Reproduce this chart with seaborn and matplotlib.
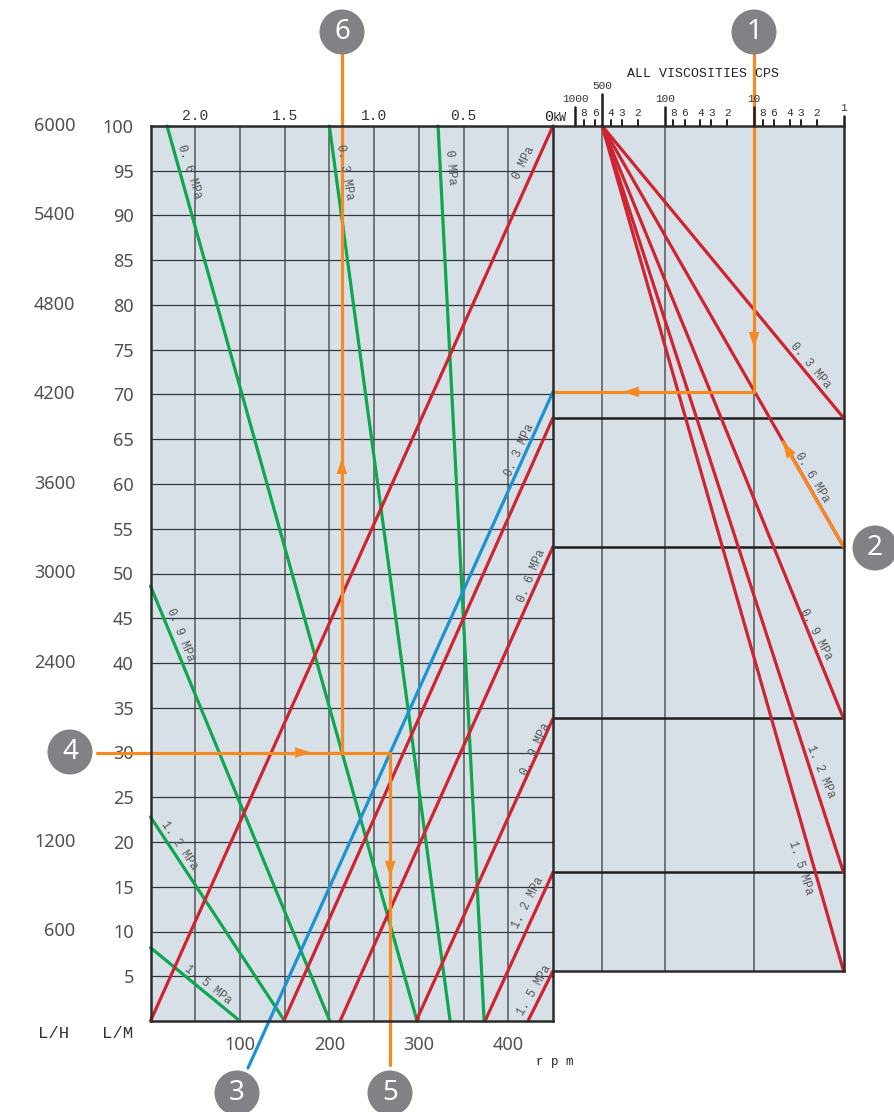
import numpy as np
import pandas as pd
import matplotlib
matplotlib.use("Agg")
import matplotlib.pyplot as plt
from matplotlib.patches import Circle
from matplotlib.transforms import IdentityTransform
import seaborn as sns

W, H = 894, 1112
RED, GREEN, BLUE, ORANGE = "#CE2330", "#0FA650", "#1B93D2", "#F58A20"
PANEL = "#D8E0E7"
MONO = "Liberation Mono"
SANS = "Noto Sans"
NUM = "#505050"

# pressure labels and intercepts
mpa = ["0", "0.3", "0.6", "0.9", "1.2", "1.5"]
red_rpm_at_zero = [0, 149, 212, 297, 374, 422]
red_lm_at_450 = [100, 67.4, 53.0, 33.8, 16.6, 5.6]
green_top_rpm = [321.5, 200, 18.5]
green_bottom_rpm = [373, 335, 298]
green_left_lm = [48.6, 22.8, 8.2]
green_left_bottom_rpm = [200.5, 150, 100]
right_visc_start = 500
right_visc_end = 1
right_lm_end = [67.4, 53.0, 33.8, 16.6, 5.6]
right_mpa = ["0.3", "0.6", "0.9", "1.2", "1.5"]
kw_labels = ["2.0", "1.5", "1.0", "0.5"]
kw_rpm = [50, 150, 250, 350]
lm_ticks = list(range(5, 105, 5))
lh_lm = [10, 20, 40, 50, 60, 70, 80, 90, 100]
lh_labels = ["600", "1200", "2400", "3000", "3600", "4200", "4800", "5400", "6000"]
rpm_major = [100, 200, 300, 400]
rpm_minor = [50, 150, 250, 350]
visc_major = [1000, 500, 100, 10, 1]
visc_minor_mult = [8, 6, 4, 3, 2]

# worked example path
ex_lm_visc = 70.3
ex_visc = 10
ex_rpm_out = 268
ex_rpm_kw = 214
ex_lm = 30
blue_rpm = [109, 450]
blue_lm = [-5.25, 70.3]


def px_rect(x0, y0, x1, y1):
    return [x0 / W, 1 - y1 / H, (x1 - x0) / W, (y1 - y0) / H]


sns.set_theme(style="white")
plt.rcParams["font.family"] = [SANS, "DejaVu Sans"]
fig = plt.figure(figsize=(W / 100, H / 100), dpi=100, facecolor="white")
ax = fig.add_axes(px_rect(150.5, 126, 553, 1021), facecolor=PANEL)
axr = fig.add_axes(px_rect(553, 126, 843.5, 971), facecolor=PANEL)
ax.set_zorder(3)
axr.set_zorder(2)

# build tables ------------------------------------------------------
rows = []
for m, r0, y1 in zip(mpa, red_rpm_at_zero, red_lm_at_450):
    rows += [("r" + m, r0, 0), ("r" + m, 450, y1)]
red_df = pd.DataFrame(rows, columns=["s", "rpm", "lm"])
rows = []
for m, a, b in zip(mpa[:3], green_top_rpm, green_bottom_rpm):
    rows += [("g" + m, a, 100), ("g" + m, b, 0)]
for m, a, b in zip(mpa[3:], green_left_lm, green_left_bottom_rpm):
    rows += [("g" + m, 0, a), ("g" + m, b, 0)]
green_df = pd.DataFrame(rows, columns=["s", "rpm", "lm"])
blue_df = pd.DataFrame({"rpm": blue_rpm, "lm": blue_lm})
rows = []
for m, y1 in zip(right_mpa, right_lm_end):
    rows += [(m, right_visc_start, 100), (m, right_visc_end, y1)]
right_df = pd.DataFrame(rows, columns=["s", "visc", "lm"])

# left panel --------------------------------------------------------
ax.set_xlim(0, 450)
ax.set_ylim(0, 100)
ax.set_axisbelow(True)
ax.set_xticks(rpm_major)
ax.set_xticklabels([str(v) for v in rpm_major], fontsize=13, color=NUM)
ax.set_xticks(rpm_minor, minor=True)
ax.set_yticks(lm_ticks)
ax.set_yticklabels([str(v) for v in lm_ticks], fontsize=13, color=NUM)
ax.tick_params(axis="both", which="both", length=0)
ax.tick_params(axis="x", pad=11)
ax.tick_params(axis="y", pad=12)
ax.grid(True, axis="x", which="both", color="#686C70", lw=1.3)
ax.grid(True, axis="y", which="major", color="#34383B", lw=0.9)
sns.lineplot(data=green_df, x="rpm", y="lm", units="s", estimator=None, sort=False,
             color=GREEN, lw=2.3, ax=ax, legend=False)
sns.lineplot(data=red_df, x="rpm", y="lm", units="s", estimator=None, sort=False,
             color=RED, lw=2.3, ax=ax, legend=False)
sns.lineplot(data=blue_df, x="rpm", y="lm", estimator=None, sort=False,
             color=BLUE, lw=2.3, ax=ax, legend=False)
# example path on the left panel
sns.lineplot(x=[-60, ex_rpm_out], y=[ex_lm, ex_lm], estimator=None, sort=False, color=ORANGE, lw=2.3, ax=ax)
sns.lineplot(x=[ex_rpm_out, ex_rpm_out], y=[ex_lm, -4.9], estimator=None, sort=False, color=ORANGE, lw=2.3, ax=ax)
sns.lineplot(x=[ex_rpm_kw, ex_rpm_kw], y=[ex_lm, 108.3], estimator=None, sort=False, color=ORANGE, lw=2.3, ax=ax)
ax.set_xlabel("")
ax.set_ylabel("")
for ln in ax.lines:
    ln.set_clip_on(False)
for s in ax.spines.values():
    s.set_visible(True)
    s.set_color("#2B2B2B")
    s.set_linewidth(1.8)

# right panel -------------------------------------------------------
axr.set_xscale("log")
axr.set_xlim(1776, 1)
axr.set_ylim(5.587, 100)
axr.set_axisbelow(True)
axr.xaxis.tick_top()
axr.set_xticks([500, 100, 10])
axr.set_xticklabels([])
axr.set_xticks([], minor=True)
axr.tick_params(axis="both", which="both", length=0)
axr.set_yticks(right_lm_end[:-1])
axr.set_yticklabels([])
axr.grid(True, axis="x", which="major", color="#686C70", lw=1.3)
axr.grid(True, axis="y", which="major", color="#1E1E1E", lw=1.8)
sns.lineplot(data=right_df, x="visc", y="lm", units="s", estimator=None, sort=False,
             color=RED, lw=2.3, ax=axr, legend=False)
sns.lineplot(x=[ex_visc, ex_visc], y=[108.3, ex_lm_visc], estimator=None, sort=False, color=ORANGE, lw=2.3, ax=axr)
sns.lineplot(x=[ex_visc, 1776], y=[ex_lm_visc, ex_lm_visc], estimator=None, sort=False, color=ORANGE, lw=2.3, ax=axr)
sns.lineplot(x=[1, 4.75], y=[53.0, 64.7], estimator=None, sort=False, color=ORANGE, lw=2.3, ax=axr)
axr.set_xlabel("")
axr.set_ylabel("")
for ln in axr.lines:
    ln.set_clip_on(False)
for k, s in axr.spines.items():
    s.set_color("#2B2B2B")
    s.set_linewidth(1.8)
axr.spines["left"].set_visible(False)

# viscosity scale ticks drawn above the top spine
tick_len = {1000: 19, 500: 32, 100: 19, 10: 19, 1: 10}
label_up = {1000: 27, 500: 40, 100: 27, 10: 27, 1: 18}
trans_top = axr.get_xaxis_transform()
for v in visc_major:
    axr.plot([v, v], [1, 1 + tick_len[v] / 845], transform=trans_top, color="#1E1E1E", lw=1.8, clip_on=False)
    axr.annotate(str(v), (v, 1), xycoords=trans_top, xytext=(0, label_up[v] * 0.72), textcoords="offset points",
                 ha="center", va="center", fontsize=8, family=MONO, color="#333333")
for dec in [100, 10, 1]:
    for m in visc_minor_mult:
        v = dec * m
        if v == 500:
            continue
        axr.plot([v, v], [1, 1 + 6 / 845], transform=trans_top, color="#1E1E1E", lw=1.4, clip_on=False)
        axr.annotate(str(m), (v, 1), xycoords=trans_top, xytext=(0, 9.5), textcoords="offset points",
                     ha="center", va="center", fontsize=8, family=MONO, color="#333333")

# arrowheads --------------------------------------------------------
def head(a, tip, tail):
    a.annotate("", xy=tip, xytext=tail, annotation_clip=False,
               arrowprops=dict(arrowstyle="-|>,head_length=1.15,head_width=0.38", color=ORANGE, lw=0,
                               mutation_scale=10, shrinkA=0, shrinkB=0))

head(axr, (10, 75.2), (10, 77.2))
head(axr, (293, 70.3), (166, 70.3))
head(axr, (4.75, 64.7), (3.49, 62.46))
head(ax, (ex_rpm_kw, 62.9), (ex_rpm_kw, 60.4))
head(ax, (179.5, 30), (156, 30))
head(ax, (ex_rpm_out, 16.1), (ex_rpm_out, 18.5))

# text --------------------------------------------------------------
def ftext(px, py, s, **kw):
    fig.text(px / W, 1 - py / H, s, **kw)


for m, r in zip(kw_labels, kw_rpm):
    ax.text(r, 100.3, m, ha="center", va="bottom", fontsize=10.5, family=MONO, color="#333333")
for y, s in zip(lh_lm, lh_labels):
    ax.text(-84, y, s, ha="right", va="center", fontsize=13, color=NUM)
ftext(54, 1034, "L/H", ha="center", va="center", fontsize=12.5, family=MONO, color="#333333")
ftext(118, 1034, "L/M", ha="center", va="center", fontsize=12.5, family=MONO, color="#333333")
ftext(555, 1062, "r p m", ha="center", va="center", fontsize=9, family=MONO, color="#222222")
ftext(703, 74, "ALL VISCOSITIES CPS", ha="center", va="center", fontsize=9.5, family=MONO, color="#222222")
ftext(553, 117, "0", ha="right", va="center", fontsize=11, family=MONO, color="#222222")
ftext(553, 118, "kW", ha="left", va="center", fontsize=8.5, family=MONO, color="#222222")

pressure_labels = [
    ("0 MPa", 524, 163, 64), ("0. 3 MPa", 520, 450, 66), ("0. 6 MPa", 532, 576, 68),
    ("0. 9 MPa", 536, 749, 66), ("1. 2 MPa", 528, 903, 63), ("1. 5 MPa", 534, 990, 60),
    ("0 MPa", 451, 167, -85), ("0. 3 MPa", 345, 172, -80), ("0. 6 MPa", 190, 172, -72),
    ("0. 9 MPa", 180, 635, -68), ("1. 2 MPa", 179, 846, -56), ("1. 5 MPa", 208, 985, -38),
    ("0. 3 MPa", 810, 366, -50), ("0. 6 MPa", 812, 477, -59), ("0. 9 MPa", 816, 634, -62),
    ("1. 2 MPa", 821, 772, -67), ("1. 5 MPa", 801, 868, -72),
]
for s, px, py, rot in pressure_labels:
    fig.text(px / W, 1 - py / H, s, ha="center", va="center", rotation=rot, rotation_mode="anchor",
             fontsize=8.5, family=MONO, color="#555555", zorder=6)

# numbered badges ---------------------------------------------------
badges = [("1", 754, 32), ("2", 875, 548), ("3", 237, 1093), ("4", 70, 752), ("5", 390, 1093), ("6", 342, 32)]
for s, px, py in badges:
    fig.patches.append(Circle((px, H - py), 22.5, transform=IdentityTransform(), facecolor="#808285",
                              edgecolor="none", zorder=8, figure=fig))
    ftext(px, py, s, ha="center", va="center", fontsize=20, color="white", zorder=9)

fig.savefig("out.png", dpi=100)
